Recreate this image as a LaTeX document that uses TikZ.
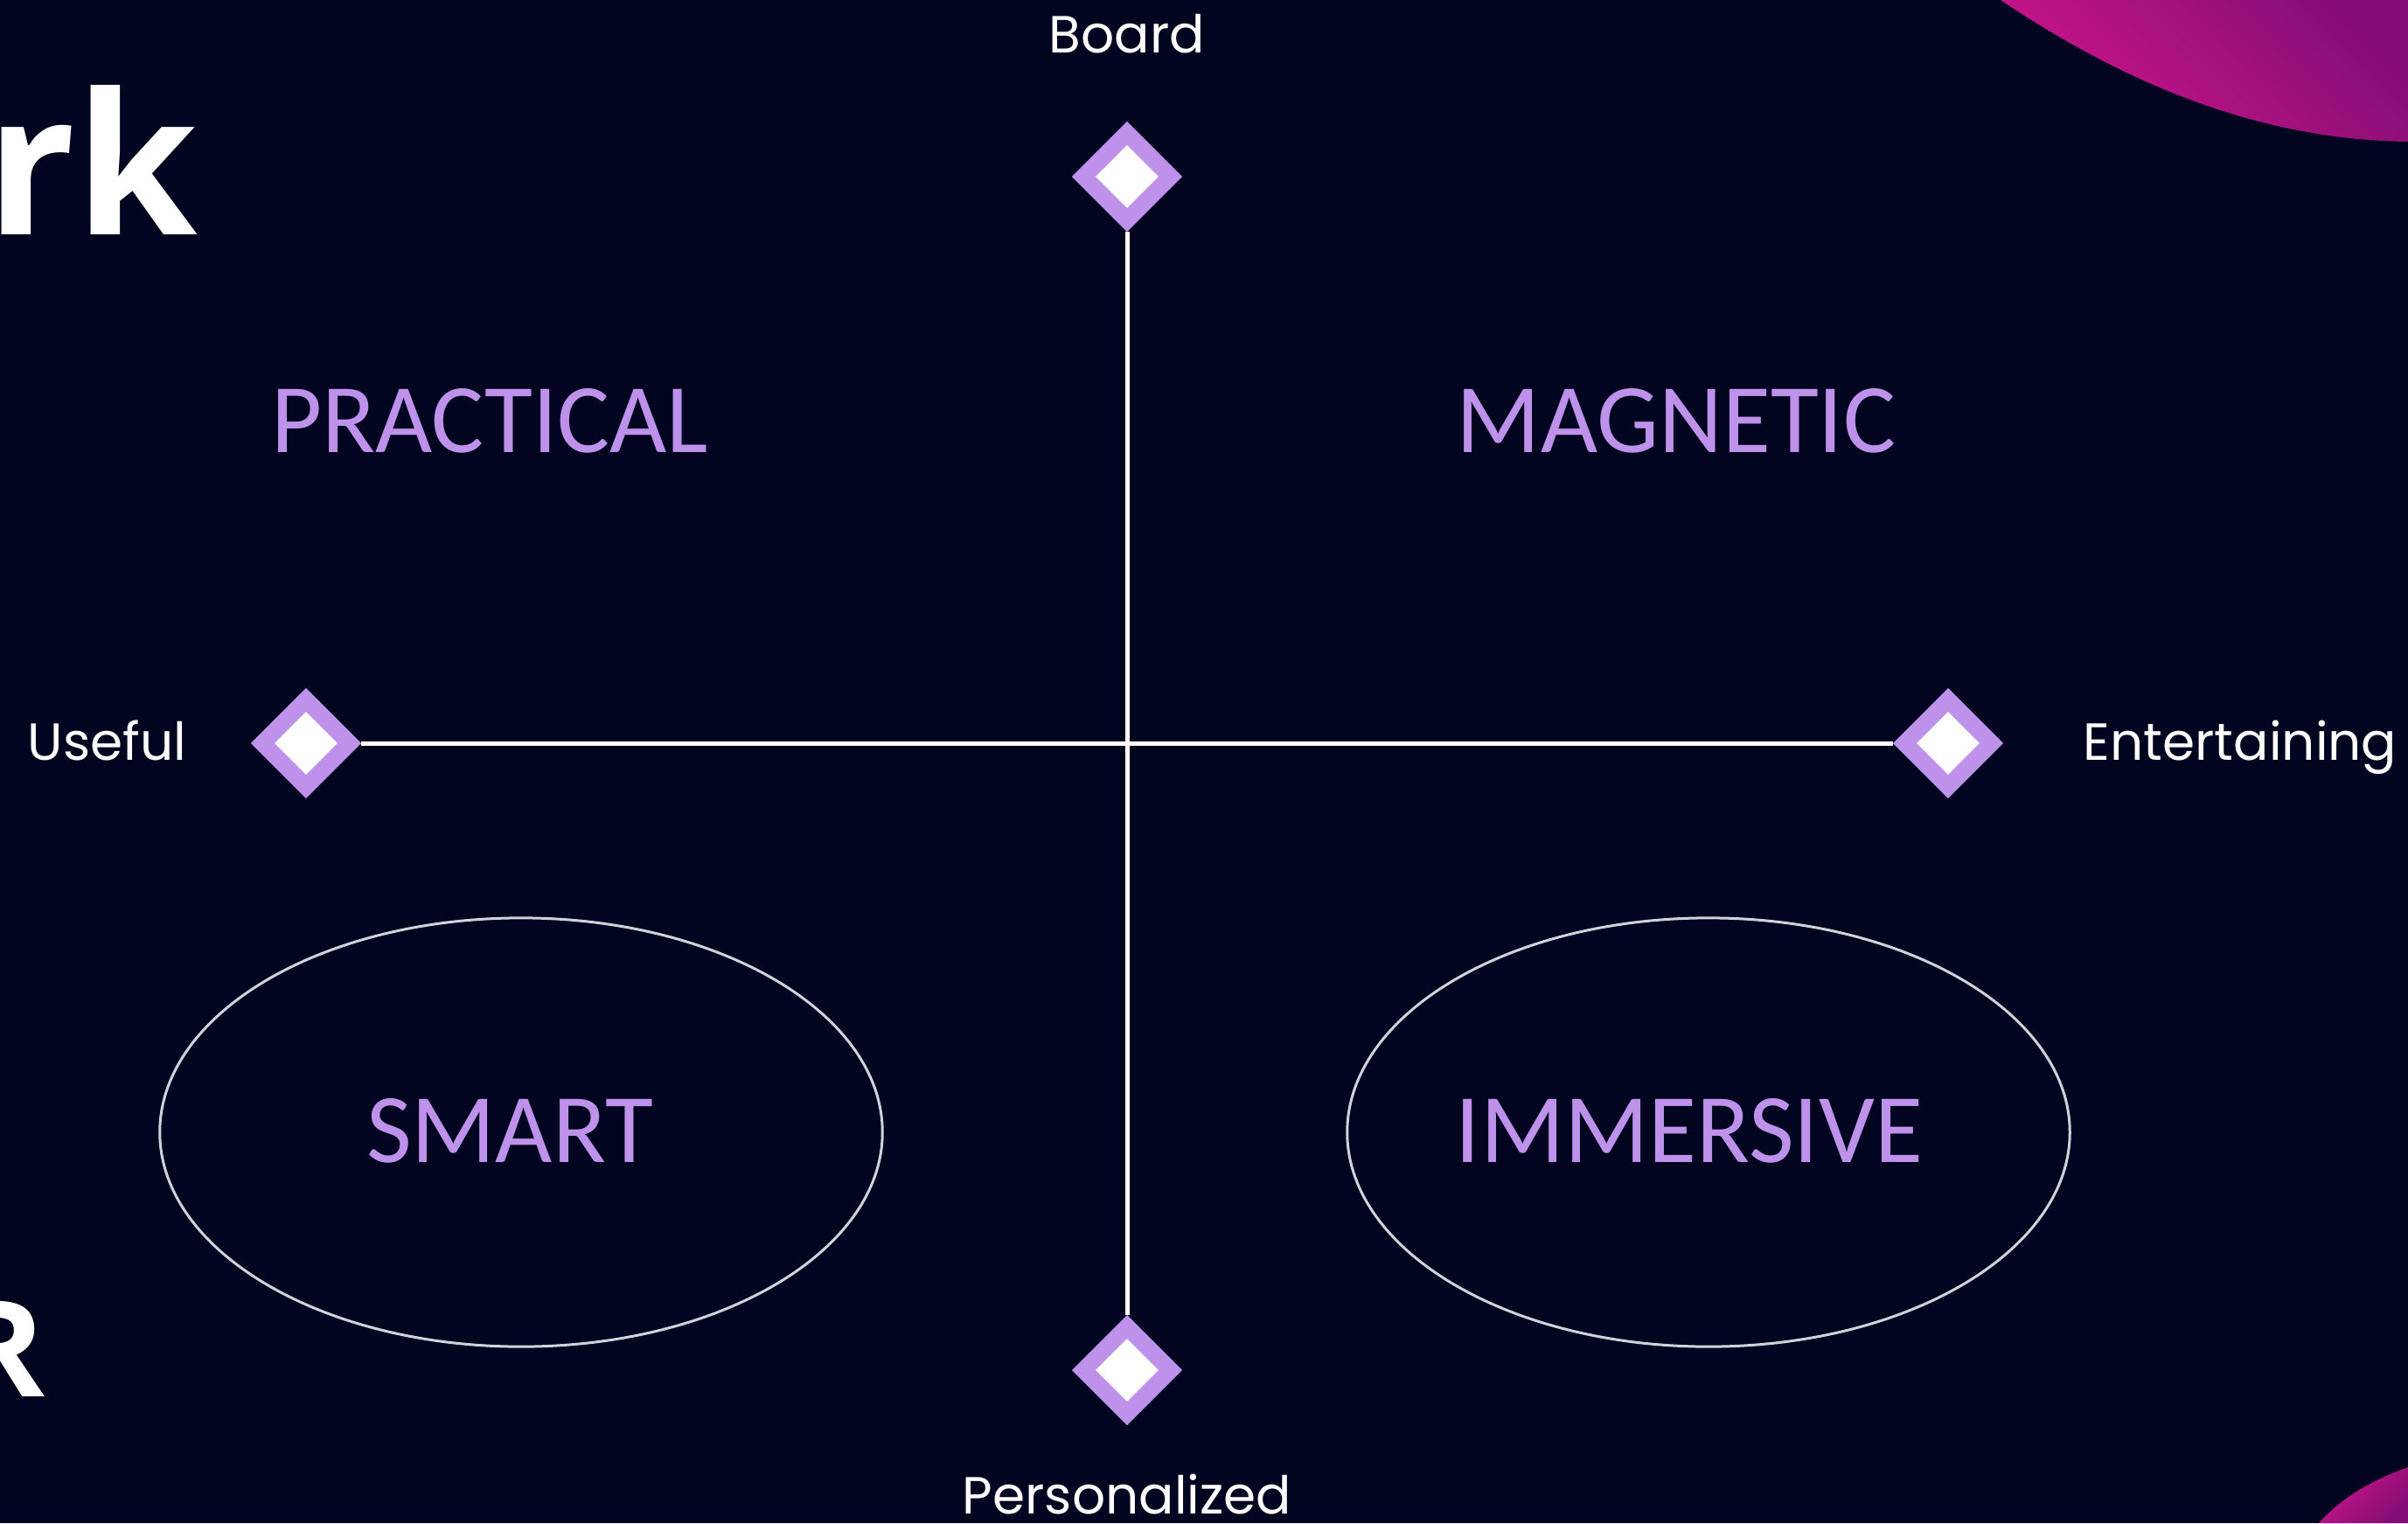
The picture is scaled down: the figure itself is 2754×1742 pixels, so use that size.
\documentclass[tikz,border=0pt]{standalone}
\usepackage{fontspec}
\setmainfont{Carlito}
\newfontfamily\labelfont{Poppins}
\newfontfamily\headfont{Open Sans}
\usetikzlibrary{positioning}
\usetikzlibrary{shapes.geometric}
\definecolor{night}{RGB}{1,5,32}
\definecolor{lilac}{RGB}{190,145,235}
\definecolor{rim}{RGB}{205,212,218}
\definecolor{fuchsia}{RGB}{205,20,140}
\definecolor{plum}{RGB}{132,14,116}
\tikzstyle{marker} = [diamond, aspect=1, minimum size=1.07cm, inner sep=0pt, draw=lilac, fill=white, line width=0.19cm]
\tikzstyle{axis} = [draw, white, line width=0.05cm]
\tikzstyle{axislabel} = [text=white, font=\labelfont\fontsize{17}{20}\selectfont, inner sep=0pt, text height=0.38cm, text depth=0pt]
\tikzstyle{quadrant} = [text=lilac, font=\fontsize{32}{38}\selectfont, inner sep=0pt, anchor=base]
\tikzstyle{ring} = [ellipse, draw=rim, line width=0.03cm, minimum width=8.26cm, minimum height=4.9cm, inner sep=0pt]
\tikzstyle{heading} = [text=white, font=\headfont\bfseries\fontsize{64}{70}\selectfont, inner sep=0pt, anchor=base east]

\begin{document}
\begin{tikzpicture}[x=0.01cm, y=-0.01cm]
	\fill[night] (0,0) rectangle (2754,1742);
	\useasboundingbox (0,0) rectangle (2754,1742);
	
	% corner swooshes
	\shade[shading=axis, top color=plum, bottom color=fuchsia, shading angle=-45] (2288,0) .. controls (2400,75) and (2560,160) .. (2754,162) -- (2754,0) -- cycle;
	\shade[shading=axis, top color=fuchsia, bottom color=plum, shading angle=45] (2652,1742) .. controls (2680,1710) and (2720,1690) .. (2754,1678) -- (2754,1742) -- cycle;
	
	\node[heading] (headTail) at (227,268) {rk};
	\node[heading, font=\headfont\bfseries\fontsize{43.5}{50}\selectfont] (headMark) at (52,1597) {R};
	
	\node[marker] (board) at (1289,202) {};
	\node[marker] (personalized) at (1289,1567) {};
	\node[marker] (useful) at (350,850) {};
	\node[marker] (entertaining) at (2228,850) {};
	
	\path[axis] (board) -- (personalized);
	\path[axis] (useful) -- (entertaining);
	
	\node[axislabel, above = 0.78cm of board, anchor=base] (boardLabel) {Board};
	\node[axislabel, below = 1.01cm of personalized, anchor=base] (personalizedLabel) {Personalized};
	\node[axislabel, left = 0.73cm of useful] (usefulLabel) {Useful};
	\node[axislabel, right = 0.91cm of entertaining] (entertainingLabel) {Entertaining};
	
	\node[quadrant] (practical) at (560,517) {PRACTICAL};
	\node[quadrant] (magnetic) at (1917,517) {MAGNETIC};
	\node[ring] (smartRing) at (596,1295) {};
	\node[ring] (immersiveRing) at (1954,1295) {};
	\node[quadrant] (smart) at (583,1329) {SMART};
	\node[quadrant] (immersive) at (1932,1329) {IMMERSIVE};
\end{tikzpicture}
\end{document}
